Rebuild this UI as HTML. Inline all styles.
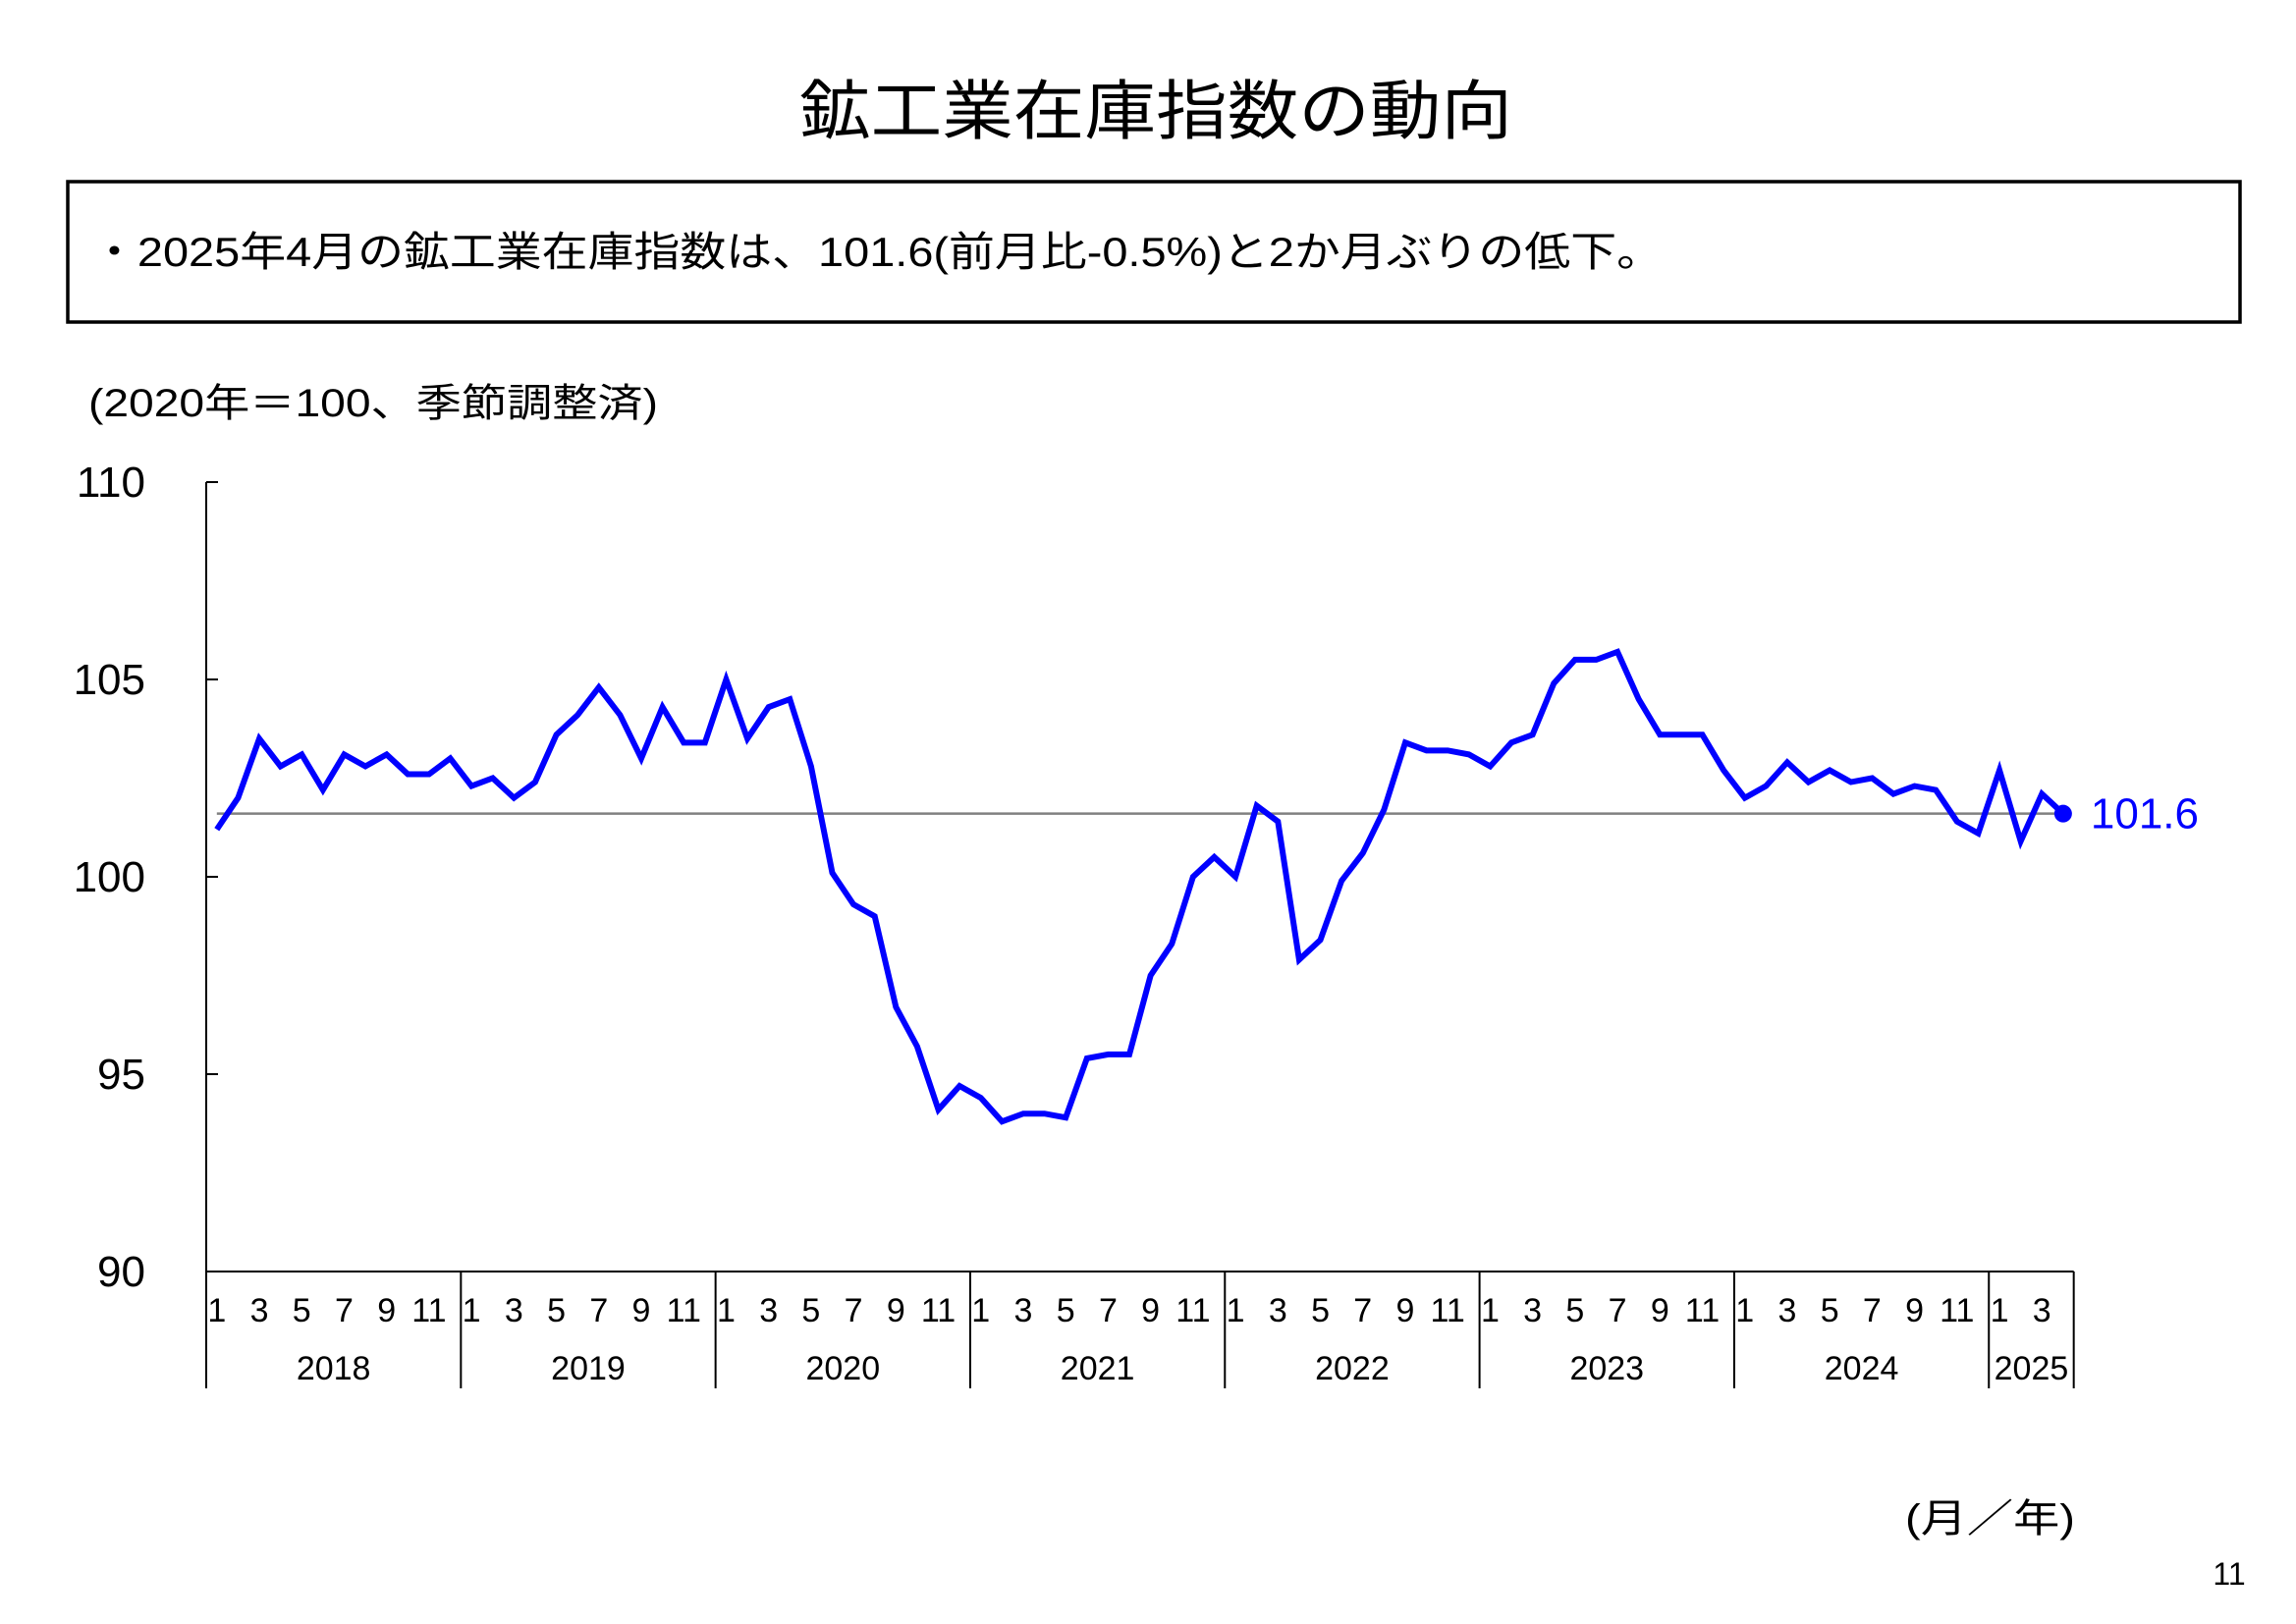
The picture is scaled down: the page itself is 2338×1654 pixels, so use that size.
<!DOCTYPE html>
<html><head><meta charset="utf-8"><style>
html,body{margin:0;padding:0;background:#fff;}
svg{display:block;}
text{font-family:"Liberation Sans","Noto Sans CJK JP",sans-serif;}
</style></head><body>
<svg id="chart" width="2338" height="1654" viewBox="0 0 2338 1654" xmlns="http://www.w3.org/2000/svg">
<rect width="2338" height="1654" fill="#fff"/>
<text x="1177" y="136" text-anchor="middle" font-size="66" textLength="726" lengthAdjust="spacingAndGlyphs" fill="#000">鉱工業在庫指数の動向</text>
<rect x="69" y="185" width="2212" height="143" fill="none" stroke="#000" stroke-width="3.5"/>
<text x="93" y="271" font-size="42" textLength="1600" lengthAdjust="spacingAndGlyphs" fill="#000">・2025年4月の鉱工業在庫指数は、101.6(前月比-0.5%)と2か月ぶりの低下。</text>
<text x="90" y="424" font-size="40" textLength="580" lengthAdjust="spacingAndGlyphs" fill="#000">(2020年＝100、季節調整済)</text>
<g id="axes"></g>
<g id="series"></g>
<text x="1940" y="1560" font-size="40" textLength="173" lengthAdjust="spacingAndGlyphs" fill="#000">(月／年)</text>
<text x="2270" y="1614" font-size="32" text-anchor="middle" fill="#000">11</text>
</svg>
<script>
const years = ['2018','2019','2020','2021','2022','2023','2024','2025'];
const values = [
101.2,102.0,103.5,102.8,103.1,102.2,103.1,102.8,103.1,102.6,102.6,103.0,
102.3,102.5,102.0,102.4,103.6,104.1,104.8,104.1,103.0,104.3,103.4,103.4,
105.0,103.5,104.3,104.5,102.8,100.1,99.3,99.0,96.7,95.7,94.1,94.7,
94.4,93.8,94.0,94.0,93.9,95.4,95.5,95.5,97.5,98.3,100.0,100.5,
100.0,101.8,101.4,97.9,98.4,99.9,100.6,101.7,103.4,103.2,103.2,103.1,
102.8,103.4,103.6,104.9,105.5,105.5,105.7,104.5,103.6,103.6,103.6,102.7,
102.0,102.3,102.9,102.4,102.7,102.4,102.5,102.1,102.3,102.2,101.4,101.1,
102.7,100.9,102.1,101.6];
const yTicks = [90,95,100,105,110];
const monthLabels = ['1','3','5','7','9','11'];
const refValue = 101.6;
const latestLabel = '101.6';

const NS='http://www.w3.org/2000/svg';
const X0=210, MW=21.61, Y0=1295, YT=491, YMIN=90, YMAX=110;
const xs=i=>X0+(i+0.5)*MW;
const ys=v=>Y0-(v-YMIN)/(YMAX-YMIN)*(Y0-YT);
const axes=document.getElementById('axes'), ser=document.getElementById('series');
function mk(tag,attrs,parent){const e=document.createElementNS(NS,tag);for(const k in attrs)e.setAttribute(k,attrs[k]);parent.appendChild(e);return e;}
const nEnd=X0+values.length*MW;
let l=mk('line',{x1:X0,y1:YT,x2:X0,y2:Y0,stroke:'#000','stroke-width':2},axes);


l=mk('line',{x1:X0,y1:Y0,x2:nEnd,y2:Y0,stroke:'#000','stroke-width':2},axes);


yTicks.forEach(v=>{
  const t=mk('line',{x1:X0,y1:ys(v),x2:X0+12,y2:ys(v),stroke:'#000','stroke-width':2},axes);
  
  
  const tx=mk('text',{x:148,y:ys(v)+15,'text-anchor':'end','font-size':44,fill:'#000'},axes);
  tx.textContent=String(v);
  
  
});
for(let y=0;y<=years.length;y++){
  const xb=Math.min(X0+y*12*MW,nEnd);
  const s=mk('line',{x1:xb,y1:Y0,x2:xb,y2:1414,stroke:'#000','stroke-width':2},axes);
  
  
}
years.forEach((yr,yi)=>{
  const start=yi*12;
  const cnt=Math.min(12,values.length-start);
  monthLabels.forEach(m=>{
    const mi=parseInt(m)-1;
    if(mi<cnt){
      const t=mk('text',{x:xs(start+mi),y:1346,'text-anchor':'middle','font-size':34,fill:'#000'},axes);
      t.textContent=m;
      
      
    }
  });
  const t=mk('text',{x:X0+(start+cnt/2)*MW,y:1405,'text-anchor':'middle','font-size':34,fill:'#000'},axes);
  t.textContent=yr;
  
  
});
const ref=mk('line',{x1:xs(0),y1:ys(refValue),x2:xs(values.length-1),y2:ys(refValue),stroke:'#808080','stroke-width':2.5},ser);


const pl=mk('polyline',{points:values.map((v,i)=>xs(i)+','+ys(v)).join(' '),fill:'none',stroke:'#0000ff','stroke-width':6,'stroke-linejoin':'miter'},ser);


const li=values.length-1;
const dot=mk('circle',{cx:xs(li),cy:ys(values[li]),r:9,fill:'#0000ff'},ser);


const lab=mk('text',{x:xs(li)+28,y:ys(values[li])+15,'font-size':44,fill:'#0000ff'},ser);
lab.textContent=latestLabel;


</script>
</body></html>
